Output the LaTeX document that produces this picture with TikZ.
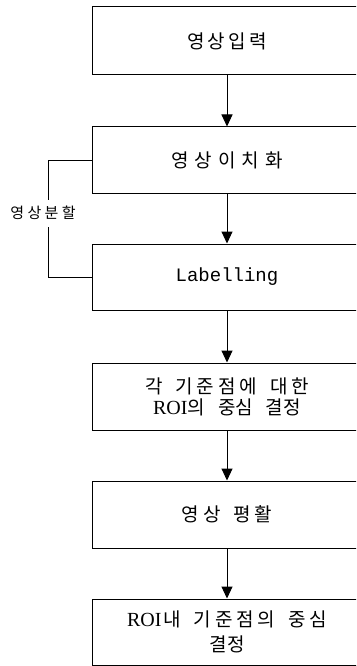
\documentclass[tikz,border=0pt]{standalone}
\usepackage{fontspec}
\newfontfamily\kr{Noto Sans CJK KR}
\newfontfamily\latser{Liberation Serif}
\newfontfamily\latmono{Liberation Mono}
\usetikzlibrary{arrows.meta}
\newcommand\wgap{\hspace{13pt}}
\tikzset{
  stepbox/.style={draw, line width=1pt, minimum width=270pt, minimum height=66pt,
    inner sep=0pt, align=center, font=\kr\fontsize{19}{21}\selectfont},
  flow/.style={-{Triangle[width=11pt,length=12pt]}, line width=1pt},
  side/.style={line width=1pt}
}
\begin{document}
\begin{tikzpicture}[x=1pt,y=-1pt]
\clip (0,0) rectangle (356,666);
\node[stepbox, minimum height=68pt] (b1) at (227,41) {\addfontfeature{LetterSpace=16}영상입력};
\node[stepbox] (b2) at (227,160) {\addfontfeature{LetterSpace=32}영상이치화};
\node[stepbox] (b3) at (227,277) {\latmono\fontsize{19}{21}\selectfont Labelling};
\node[stepbox, minimum height=67pt] (b4) at (227,396.5) {\addfontfeature{LetterSpace=20}각\wgap 기준점에\wgap 대한\\{\latser\fontsize{20}{21}\selectfont ROI}의\wgap 중심\wgap 결정};
\node[stepbox, minimum height=67pt] (b5) at (227,514.5) {\addfontfeature{LetterSpace=20}영상\wgap 평활};
\node[stepbox, font=\kr\fontsize{19}{25}\selectfont] (b6) at (227,632) {\addfontfeature{LetterSpace=20}{\latser\fontsize{20}{25}\selectfont ROI}\hspace{2pt}내\wgap 기준점의\wgap 중심\\결정};
\draw[flow] (b1) -- (b2);
\draw[flow] (b2) -- (b3);
\draw[flow] (b3) -- (b4);
\draw[flow] (b4) -- (b5);
\draw[flow] (b5) -- (b6);
\coordinate (t) at (48,200);
\coordinate (u) at (48,227);
\node[font=\kr\fontsize{15}{16}\selectfont, inner sep=0pt] (lbl) at (43,213) {\addfontfeature{LetterSpace=22}영상분할};
\draw[side] (b2.west) -| (t);
\draw[side] (u) |- (b3.west);
\end{tikzpicture}
\end{document}
